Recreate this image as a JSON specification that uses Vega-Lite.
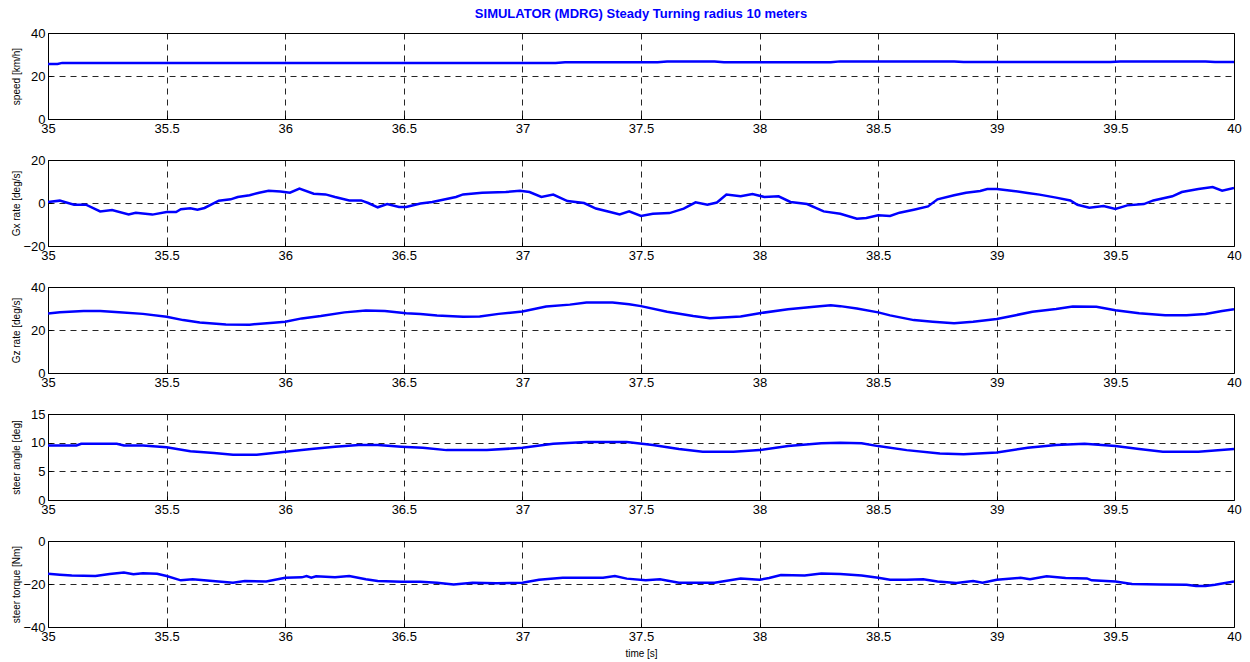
{
  "$schema": "https://vega.github.io/schema/vega-lite/v6.json",
  "padding": {"left": 10, "top": 7, "right": 2, "bottom": 2},
  "background": "white",
  "spacing": 41,
  "bounds": "flush",
  "config": {
    "font": "Liberation Sans",
    "view": {"stroke": "#000000", "strokeWidth": 1},
    "axis": {
      "grid": true, "gridColor": "#000000", "gridDash": [6, 5], "gridWidth": 1, "gridOpacity": 0.85,
      "domain": false, "ticks": true, "tickSize": -4, "tickColor": "#000000", "tickWidth": 1,
      "labelFontSize": 13, "labelColor": "#000000", "labelFont": "Liberation Sans",
      "titleFontSize": 10, "titleFontWeight": "normal", "titleColor": "#000000", "titleFont": "Liberation Sans",
      "labelFlush": false, "labelOverlap": false, "format": "~f"
    },
    "axisX": {"labelPadding": 7},
    "axisY": {"labelPadding": 7, "titleX": -27, "titleBaseline": "bottom"}
  },
  "datasets": {
    "speed": [
      {"t": 35.0, "v": 25.6}, {"t": 35.04, "v": 25.6}, {"t": 35.06, "v": 26.1}, {"t": 35.5, "v": 26.1}, {"t": 36.0, "v": 26.1}, {"t": 36.5, "v": 26.1}, {"t": 37.0, "v": 26.1}, {"t": 37.14, "v": 26.1}, {"t": 37.18, "v": 26.4}, {"t": 37.57, "v": 26.4}, {"t": 37.61, "v": 26.7}, {"t": 37.81, "v": 26.7}, {"t": 37.85, "v": 26.4}, {"t": 38.3, "v": 26.4}, {"t": 38.34, "v": 26.8}, {"t": 38.82, "v": 26.8}, {"t": 38.86, "v": 26.5}, {"t": 39.48, "v": 26.5}, {"t": 39.52, "v": 26.8}, {"t": 39.88, "v": 26.8}, {"t": 39.92, "v": 26.5}, {"t": 40.0, "v": 26.5}
    ],
    "gx": [
      {"t": 35.0, "v": 0.5}, {"t": 35.05, "v": 1.1}, {"t": 35.07, "v": 0.5}, {"t": 35.11, "v": -0.8}, {"t": 35.16, "v": -0.8}, {"t": 35.22, "v": -3.9}, {"t": 35.27, "v": -3.3}, {"t": 35.34, "v": -5.3}, {"t": 35.37, "v": -4.5}, {"t": 35.44, "v": -5.4}, {"t": 35.5, "v": -4.2}, {"t": 35.54, "v": -4.2}, {"t": 35.56, "v": -2.9}, {"t": 35.6, "v": -2.5}, {"t": 35.63, "v": -3.1}, {"t": 35.66, "v": -2.3}, {"t": 35.72, "v": 1.1}, {"t": 35.77, "v": 1.7}, {"t": 35.8, "v": 2.8}, {"t": 35.85, "v": 3.6}, {"t": 35.89, "v": 4.8}, {"t": 35.93, "v": 5.7}, {"t": 35.98, "v": 5.4}, {"t": 36.02, "v": 4.8}, {"t": 36.06, "v": 6.7}, {"t": 36.12, "v": 4.3}, {"t": 36.17, "v": 4.0}, {"t": 36.21, "v": 2.8}, {"t": 36.27, "v": 1.2}, {"t": 36.32, "v": 1.2}, {"t": 36.35, "v": 0}, {"t": 36.39, "v": -2.0}, {"t": 36.43, "v": -0.5}, {"t": 36.48, "v": -1.9}, {"t": 36.51, "v": -1.9}, {"t": 36.57, "v": -0.2}, {"t": 36.62, "v": 0.5}, {"t": 36.66, "v": 1.4}, {"t": 36.72, "v": 2.8}, {"t": 36.75, "v": 4.0}, {"t": 36.83, "v": 4.8}, {"t": 36.93, "v": 5.1}, {"t": 36.99, "v": 5.7}, {"t": 37.03, "v": 5.1}, {"t": 37.08, "v": 2.8}, {"t": 37.13, "v": 3.9}, {"t": 37.19, "v": 0.9}, {"t": 37.26, "v": 0}, {"t": 37.31, "v": -2.6}, {"t": 37.37, "v": -4.2}, {"t": 37.41, "v": -5.3}, {"t": 37.45, "v": -3.9}, {"t": 37.5, "v": -6.0}, {"t": 37.55, "v": -5.0}, {"t": 37.62, "v": -4.7}, {"t": 37.68, "v": -2.6}, {"t": 37.73, "v": 0.3}, {"t": 37.78, "v": -0.8}, {"t": 37.82, "v": 0.2}, {"t": 37.86, "v": 3.9}, {"t": 37.92, "v": 3.1}, {"t": 37.97, "v": 4.2}, {"t": 38.02, "v": 2.8}, {"t": 38.08, "v": 3.1}, {"t": 38.13, "v": 0.5}, {"t": 38.2, "v": -0.5}, {"t": 38.27, "v": -3.9}, {"t": 38.34, "v": -5.0}, {"t": 38.41, "v": -7.3}, {"t": 38.45, "v": -7.0}, {"t": 38.5, "v": -5.7}, {"t": 38.55, "v": -6.0}, {"t": 38.59, "v": -4.5}, {"t": 38.65, "v": -3.1}, {"t": 38.71, "v": -1.6}, {"t": 38.75, "v": 1.7}, {"t": 38.82, "v": 3.6}, {"t": 38.87, "v": 4.8}, {"t": 38.93, "v": 5.6}, {"t": 38.96, "v": 6.5}, {"t": 39.0, "v": 6.5}, {"t": 39.07, "v": 5.6}, {"t": 39.13, "v": 4.7}, {"t": 39.18, "v": 3.9}, {"t": 39.25, "v": 2.5}, {"t": 39.31, "v": 1.2}, {"t": 39.34, "v": -0.8}, {"t": 39.39, "v": -2.2}, {"t": 39.45, "v": -1.4}, {"t": 39.5, "v": -2.8}, {"t": 39.55, "v": -1.1}, {"t": 39.62, "v": -0.5}, {"t": 39.66, "v": 1.2}, {"t": 39.74, "v": 3.1}, {"t": 39.78, "v": 5.1}, {"t": 39.85, "v": 6.5}, {"t": 39.91, "v": 7.4}, {"t": 39.95, "v": 5.7}, {"t": 40.0, "v": 7.0}
    ],
    "gz": [
      {"t": 35.0, "v": 27.7}, {"t": 35.05, "v": 28.3}, {"t": 35.15, "v": 28.8}, {"t": 35.22, "v": 28.8}, {"t": 35.3, "v": 28.3}, {"t": 35.4, "v": 27.5}, {"t": 35.5, "v": 26.2}, {"t": 35.57, "v": 24.6}, {"t": 35.64, "v": 23.5}, {"t": 35.75, "v": 22.6}, {"t": 35.85, "v": 22.5}, {"t": 35.95, "v": 23.4}, {"t": 36.0, "v": 23.8}, {"t": 36.07, "v": 25.4}, {"t": 36.15, "v": 26.5}, {"t": 36.25, "v": 28.2}, {"t": 36.34, "v": 29.1}, {"t": 36.42, "v": 28.8}, {"t": 36.51, "v": 27.8}, {"t": 36.57, "v": 27.4}, {"t": 36.64, "v": 26.8}, {"t": 36.75, "v": 26.2}, {"t": 36.82, "v": 26.3}, {"t": 36.9, "v": 27.5}, {"t": 37.0, "v": 28.6}, {"t": 37.1, "v": 30.9}, {"t": 37.2, "v": 31.8}, {"t": 37.27, "v": 32.8}, {"t": 37.38, "v": 32.8}, {"t": 37.45, "v": 32.0}, {"t": 37.5, "v": 31.1}, {"t": 37.61, "v": 28.5}, {"t": 37.72, "v": 26.5}, {"t": 37.79, "v": 25.5}, {"t": 37.92, "v": 26.3}, {"t": 38.0, "v": 27.8}, {"t": 38.12, "v": 29.7}, {"t": 38.23, "v": 30.8}, {"t": 38.3, "v": 31.5}, {"t": 38.34, "v": 31.1}, {"t": 38.41, "v": 30.0}, {"t": 38.5, "v": 28.2}, {"t": 38.55, "v": 26.8}, {"t": 38.65, "v": 24.6}, {"t": 38.73, "v": 23.8}, {"t": 38.82, "v": 23.1}, {"t": 38.9, "v": 23.8}, {"t": 39.0, "v": 25.1}, {"t": 39.08, "v": 26.9}, {"t": 39.15, "v": 28.5}, {"t": 39.25, "v": 29.8}, {"t": 39.32, "v": 30.9}, {"t": 39.42, "v": 30.8}, {"t": 39.5, "v": 29.2}, {"t": 39.6, "v": 27.8}, {"t": 39.71, "v": 26.9}, {"t": 39.8, "v": 26.9}, {"t": 39.88, "v": 27.4}, {"t": 39.95, "v": 28.8}, {"t": 40.0, "v": 29.7}
    ],
    "angle": [
      {"t": 35.0, "v": 9.5}, {"t": 35.12, "v": 9.5}, {"t": 35.14, "v": 9.8}, {"t": 35.29, "v": 9.8}, {"t": 35.32, "v": 9.5}, {"t": 35.4, "v": 9.5}, {"t": 35.5, "v": 9.2}, {"t": 35.6, "v": 8.5}, {"t": 35.7, "v": 8.2}, {"t": 35.78, "v": 7.9}, {"t": 35.88, "v": 7.9}, {"t": 36.0, "v": 8.4}, {"t": 36.11, "v": 8.9}, {"t": 36.21, "v": 9.3}, {"t": 36.31, "v": 9.6}, {"t": 36.39, "v": 9.6}, {"t": 36.49, "v": 9.3}, {"t": 36.58, "v": 9.1}, {"t": 36.68, "v": 8.7}, {"t": 36.85, "v": 8.7}, {"t": 37.0, "v": 9.1}, {"t": 37.13, "v": 9.8}, {"t": 37.27, "v": 10.1}, {"t": 37.44, "v": 10.1}, {"t": 37.55, "v": 9.6}, {"t": 37.66, "v": 8.9}, {"t": 37.76, "v": 8.4}, {"t": 37.89, "v": 8.4}, {"t": 38.0, "v": 8.7}, {"t": 38.12, "v": 9.4}, {"t": 38.26, "v": 9.9}, {"t": 38.34, "v": 10.0}, {"t": 38.43, "v": 9.9}, {"t": 38.5, "v": 9.4}, {"t": 38.62, "v": 8.7}, {"t": 38.76, "v": 8.1}, {"t": 38.86, "v": 8.0}, {"t": 39.0, "v": 8.3}, {"t": 39.13, "v": 9.1}, {"t": 39.25, "v": 9.6}, {"t": 39.37, "v": 9.8}, {"t": 39.5, "v": 9.4}, {"t": 39.6, "v": 8.9}, {"t": 39.7, "v": 8.4}, {"t": 39.85, "v": 8.4}, {"t": 40.0, "v": 8.9}
    ],
    "torque": [
      {"t": 35.0, "v": -15.2}, {"t": 35.05, "v": -15.7}, {"t": 35.1, "v": -16.1}, {"t": 35.2, "v": -16.3}, {"t": 35.26, "v": -15.3}, {"t": 35.32, "v": -14.7}, {"t": 35.36, "v": -15.5}, {"t": 35.4, "v": -15.0}, {"t": 35.46, "v": -15.2}, {"t": 35.5, "v": -16.3}, {"t": 35.56, "v": -18.3}, {"t": 35.61, "v": -17.8}, {"t": 35.67, "v": -18.4}, {"t": 35.78, "v": -19.4}, {"t": 35.83, "v": -18.6}, {"t": 35.92, "v": -18.8}, {"t": 36.0, "v": -17.1}, {"t": 36.07, "v": -16.9}, {"t": 36.09, "v": -16.3}, {"t": 36.11, "v": -17.1}, {"t": 36.13, "v": -16.4}, {"t": 36.21, "v": -16.9}, {"t": 36.27, "v": -16.3}, {"t": 36.34, "v": -17.8}, {"t": 36.39, "v": -18.6}, {"t": 36.49, "v": -18.9}, {"t": 36.57, "v": -19.0}, {"t": 36.64, "v": -19.4}, {"t": 36.71, "v": -20.2}, {"t": 36.79, "v": -19.4}, {"t": 36.89, "v": -19.7}, {"t": 37.0, "v": -19.4}, {"t": 37.07, "v": -18.0}, {"t": 37.17, "v": -17.1}, {"t": 37.34, "v": -17.1}, {"t": 37.39, "v": -16.3}, {"t": 37.44, "v": -17.5}, {"t": 37.52, "v": -18.3}, {"t": 37.58, "v": -17.8}, {"t": 37.66, "v": -19.4}, {"t": 37.81, "v": -19.4}, {"t": 37.92, "v": -17.4}, {"t": 38.0, "v": -18.0}, {"t": 38.04, "v": -17.2}, {"t": 38.09, "v": -15.8}, {"t": 38.19, "v": -16.0}, {"t": 38.26, "v": -15.1}, {"t": 38.34, "v": -15.4}, {"t": 38.43, "v": -16.0}, {"t": 38.5, "v": -17.1}, {"t": 38.55, "v": -18.0}, {"t": 38.62, "v": -18.0}, {"t": 38.69, "v": -17.8}, {"t": 38.75, "v": -18.8}, {"t": 38.83, "v": -19.5}, {"t": 38.9, "v": -18.6}, {"t": 38.94, "v": -19.4}, {"t": 39.0, "v": -18.0}, {"t": 39.1, "v": -17.1}, {"t": 39.14, "v": -17.8}, {"t": 39.21, "v": -16.4}, {"t": 39.29, "v": -17.2}, {"t": 39.38, "v": -17.4}, {"t": 39.4, "v": -18.3}, {"t": 39.5, "v": -18.8}, {"t": 39.57, "v": -20.0}, {"t": 39.69, "v": -20.2}, {"t": 39.8, "v": -20.3}, {"t": 39.84, "v": -20.9}, {"t": 39.88, "v": -20.9}, {"t": 39.92, "v": -20.3}, {"t": 40.0, "v": -18.8}
    ]
  },
  "vconcat": [
    {
      "width": 1186, "height": 86,
      "title": {"text": "SIMULATOR (MDRG) Steady Turning radius 10 meters", "color": "#0000ff", "font": "Liberation Sans", "fontSize": 13, "fontWeight": "bold", "anchor": "middle", "offset": 6},
      "data": {"name": "speed"},
      "mark": {"type": "line", "color": "#0000ff", "strokeWidth": 2.5, "clip": true},
      "encoding": {
        "x": {"field": "t", "type": "quantitative", "scale": {"domain": [35, 40], "nice": false, "zero": false}, "axis": {"title": null, "values": [35, 35.5, 36, 36.5, 37, 37.5, 38, 38.5, 39, 39.5, 40]}},
        "y": {"field": "v", "type": "quantitative", "scale": {"domain": [0, 40], "nice": false}, "axis": {"values": [0, 20, 40], "title": "speed [km/h]"}}
      }
    },
    {
      "width": 1186, "height": 86,
      "data": {"name": "gx"},
      "mark": {"type": "line", "color": "#0000ff", "strokeWidth": 2.5, "clip": true},
      "encoding": {
        "x": {"field": "t", "type": "quantitative", "scale": {"domain": [35, 40], "nice": false, "zero": false}, "axis": {"title": null, "values": [35, 35.5, 36, 36.5, 37, 37.5, 38, 38.5, 39, 39.5, 40]}},
        "y": {"field": "v", "type": "quantitative", "scale": {"domain": [-20, 20], "nice": false}, "axis": {"values": [-20, 0, 20], "title": "Gx rate [deg/s]"}}
      }
    },
    {
      "width": 1186, "height": 86,
      "data": {"name": "gz"},
      "mark": {"type": "line", "color": "#0000ff", "strokeWidth": 2.5, "clip": true},
      "encoding": {
        "x": {"field": "t", "type": "quantitative", "scale": {"domain": [35, 40], "nice": false, "zero": false}, "axis": {"title": null, "values": [35, 35.5, 36, 36.5, 37, 37.5, 38, 38.5, 39, 39.5, 40]}},
        "y": {"field": "v", "type": "quantitative", "scale": {"domain": [0, 40], "nice": false}, "axis": {"values": [0, 20, 40], "title": "Gz rate [deg/s]"}}
      }
    },
    {
      "width": 1186, "height": 86,
      "data": {"name": "angle"},
      "mark": {"type": "line", "color": "#0000ff", "strokeWidth": 2.5, "clip": true},
      "encoding": {
        "x": {"field": "t", "type": "quantitative", "scale": {"domain": [35, 40], "nice": false, "zero": false}, "axis": {"title": null, "values": [35, 35.5, 36, 36.5, 37, 37.5, 38, 38.5, 39, 39.5, 40]}},
        "y": {"field": "v", "type": "quantitative", "scale": {"domain": [0, 15], "nice": false}, "axis": {"values": [0, 5, 10, 15], "title": "steer angle [deg]"}}
      }
    },
    {
      "width": 1186, "height": 86,
      "data": {"name": "torque"},
      "mark": {"type": "line", "color": "#0000ff", "strokeWidth": 2.5, "clip": true},
      "encoding": {
        "x": {"field": "t", "type": "quantitative", "scale": {"domain": [35, 40], "nice": false, "zero": false}, "axis": {"title": "time [s]", "titlePadding": 5, "values": [35, 35.5, 36, 36.5, 37, 37.5, 38, 38.5, 39, 39.5, 40]}},
        "y": {"field": "v", "type": "quantitative", "scale": {"domain": [-40, 0], "nice": false}, "axis": {"values": [-40, -20, 0], "title": "steer torque [Nm]"}}
      }
    }
  ]
}
